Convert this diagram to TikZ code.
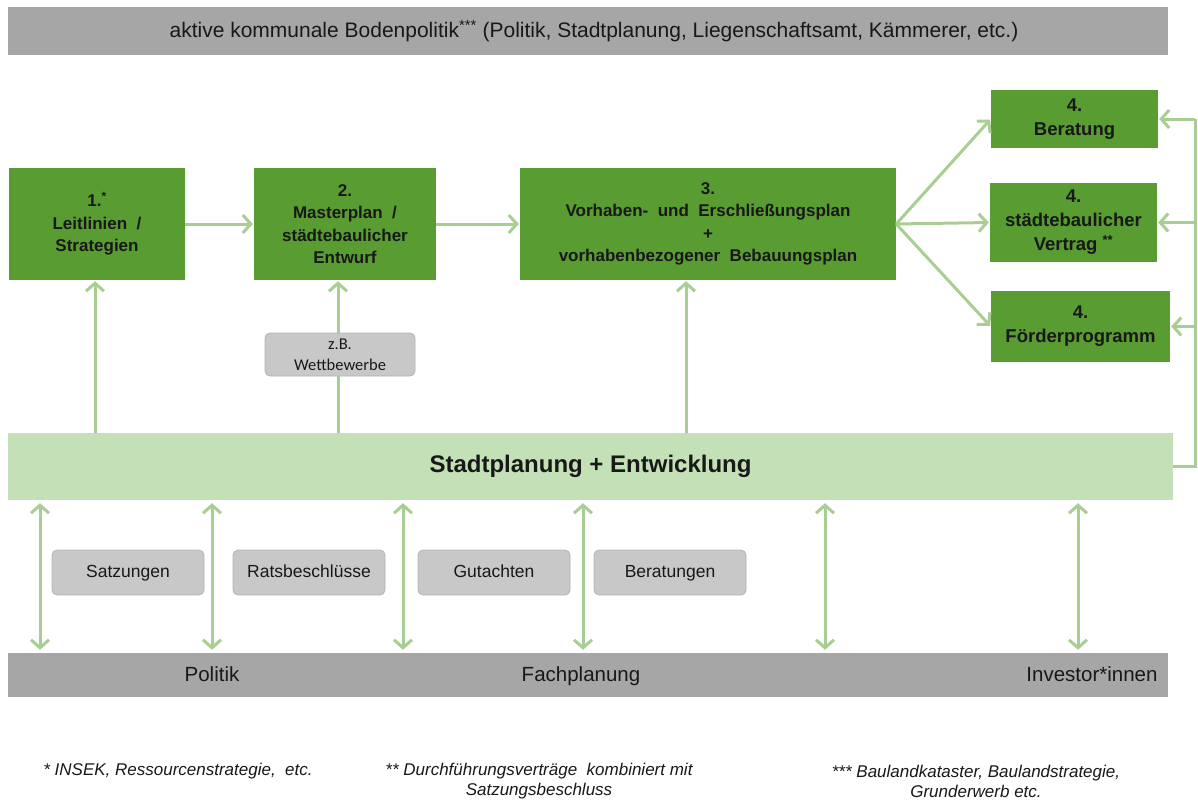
\documentclass[tikz,border=0pt]{standalone}
\usepackage{fontspec}
\setmainfont{Liberation Sans}
\newfontfamily\chipfont{Carlito}
\usetikzlibrary{arrows.meta}

\definecolor{barGray}{RGB}{166,166,166}
\definecolor{boxGreen}{RGB}{88,156,50}
\definecolor{barGreen}{RGB}{196,224,182}
\definecolor{arrowGreen}{RGB}{168,206,148}
\definecolor{chipGray}{RGB}{200,200,200}
\definecolor{chipLine}{RGB}{180,180,180}
\definecolor{ink}{RGB}{24,24,24}

\begin{document}
\begin{tikzpicture}[x=1pt,y=-1pt,
  graybar/.style={fill=barGray, draw=none, inner sep=0pt},
  barlabel/.style={text=ink, font=\fontsize{20.5}{24}\selectfont, inner sep=0pt,
    text height=15pt, text depth=4.5pt},
  greenbox/.style={fill=boxGreen, draw=none, inner sep=0pt, align=center, text=ink,
    font=\fontsize{17}{22.5}\selectfont\bfseries},
  smallgreen/.style={greenbox, font=\fontsize{18.5}{24}\selectfont\bfseries},
  chip/.style={fill=chipGray, draw=chipLine, line width=0.8pt, rounded corners=5pt,
    inner sep=0pt, align=center, text=ink, font=\fontsize{17.5}{21}\selectfont},
  onechip/.style={chip, minimum width=152, minimum height=45,
    text height=13pt, text depth=4pt},
  arr/.style={draw=arrowGreen, line width=3pt,
    -{Straight Barb[length=8pt,width=18pt]}, shorten >=1pt},
  dbl/.style={draw=arrowGreen, line width=3pt,
    {Straight Barb[length=8pt,width=18pt]}-{Straight Barb[length=8pt,width=18pt]}},
  rail/.style={draw=arrowGreen, line width=3pt},
  note/.style={text=ink, align=center, inner sep=0pt,
    font=\fontsize{17}{20}\selectfont\itshape}
]
\useasboundingbox (0,0) rectangle (1198,800);

% top bar
\node[graybar, minimum width=1160, minimum height=48] (top) at (588,31) {};
\node[text=ink, font=\fontsize{21}{24}\selectfont, inner sep=0pt] (toplbl) at (594,31)
  {aktive kommunale Bodenpolitik\textsuperscript{***} (Politik, Stadtplanung, Liegenschaftsamt, Kämmerer, etc.)};

% planning steps
\node[greenbox, minimum width=176, minimum height=112] (b1) at (97,224)
  {1.\textsuperscript{*}\\Leitlinien\ \ /\\Strategien};
\node[greenbox, minimum width=182, minimum height=112] (b2) at (345,224)
  {2.\\Masterplan\ \ /\\städtebaulicher\\Entwurf};
\node[greenbox, minimum width=376, minimum height=112] (b3) at (708,224)
  {3.\\Vorhaben-\ \ und\ \ Erschließungsplan\\+\\vorhabenbezogener\ \ Bebauungsplan};
\node[smallgreen, minimum width=167, minimum height=58] (b4a) at (1074.5,119)
  {4.\\Beratung};
\node[smallgreen, minimum width=167, minimum height=79] (b4b) at (1073.5,222.5)
  {4.\\städtebaulicher\\Vertrag \textsuperscript{**}};
\node[smallgreen, minimum width=179, minimum height=71] (b4c) at (1080.5,326.5)
  {4.\\Förderprogramm};

% central bar
\node[fill=barGreen, draw=none, minimum width=1165, minimum height=67, inner sep=0pt,
  text=ink, font=\fontsize{24}{28}\selectfont\bfseries] (bar) at (590.5,466.5)
  {Stadtplanung + Entwicklung};

% bottom bar
\node[graybar, minimum width=1160, minimum height=44] (bot) at (588,675) {};
\node[barlabel] (pol) at (212,676) {Politik};
\node[barlabel] (fach) at (581,676) {Fachplanung};
\node[barlabel] (inv) at (1092,676) {Investor*innen};

% flow between steps
\draw[arr] (b1.east) -- (b2.west);
\draw[arr] (b2.east) -- (b3.west);
\draw[arr] (b3.east) -- (b4a.west);
\draw[arr] (b3.east) -- (b4b.west);
\draw[arr] (b3.east) -- (b4c.west);

% feedback rail on the right
\coordinate (railx) at (1195,0);
\draw[rail] (bar.east) -- (bar.east -| railx) -- (b4a.east -| railx);
\draw[arr] (b4a.east -| railx) -- (b4a.east);
\draw[arr] (b4b.east -| railx) -- (b4b.east);
\draw[arr] (b4c.east -| railx) -- (b4c.east);

% upward arrows from the bar
\coordinate (up1) at (95,0);
\coordinate (up2) at (338,0);
\coordinate (up3) at (686,0);
\draw[arr] (bar.north -| up1) -- (b1.south -| up1);
\draw[arr] (bar.north -| up2) -- (b2.south -| up2);
\draw[arr] (bar.north -| up3) -- (b3.south -| up3);
\node[chip, minimum width=150, minimum height=43, font=\chipfont\fontsize{16.5}{21}\selectfont] (wb) at (340,354.5)
  {z.B.\\Wettbewerbe};

% instruments
\node[onechip] (s1) at (128,572.5) {Satzungen};
\node[onechip] (s2) at (309,572.5) {Ratsbeschlüsse};
\node[onechip] (s3) at (494,572.5) {Gutachten};
\node[onechip] (s4) at (670,572.5) {Beratungen};

% exchange with the actors
\foreach \xx/\nm in {40/d1,212/d2,403/d3,583/d4,825/d5,1078/d6}{
  \coordinate (\nm) at (\xx,0);
  \draw[dbl, shorten <=3pt, shorten >=3pt] (bar.south -| \nm) -- (bot.north -| \nm);
}

% footnotes
\node[note] (n1) at (178,771) {* INSEK, Ressourcenstrategie,\ \ etc.};
\node[note] (n2) at (539,781) {** Durchführungsverträge\ \ kombiniert mit\\Satzungsbeschluss};
\node[note] (n3) at (976,781) {*** Baulandkataster, Baulandstrategie,\\Grunderwerb etc.};
\end{tikzpicture}
\end{document}
